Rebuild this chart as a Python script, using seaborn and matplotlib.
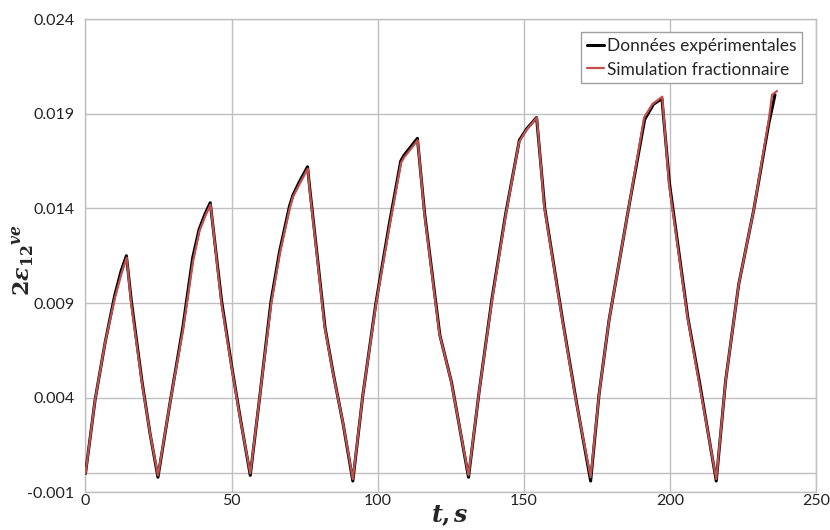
import numpy as np
import pandas as pd
import matplotlib
matplotlib.use('Agg')
import matplotlib.pyplot as plt
from matplotlib.ticker import FormatStrFormatter
import seaborn as sns

# Simulation (red) curve
t_sim = [0.0, 3.3, 6.7, 10.1, 12.4, 14.1, 15.6, 19.2, 22.0, 24.8,
         28.9, 33.4, 36.8, 39.0, 41.0, 42.8, 46.5, 50.0, 52.8, 56.4,
         59.6, 63.6, 66.5, 69.9, 71.0, 73.3, 76.1, 76.7, 79.0, 81.8, 84.7, 88.1, 91.5,
         94.9, 99.5, 104.0, 108.0, 109.1, 113.7, 116.0, 121.1, 125.1, 131.1,
         134.8, 139.3, 143.9, 148.4, 150.7, 154.5, 157.0, 163.2, 167.8, 172.9,
         175.8, 179.2, 186.0, 191.2, 194.0, 197.4, 199.7, 206.0, 210.0, 215.9,
         219.1, 223.6, 228.7, 233.9, 235.0, 236.7]
eps_sim = [0.0000, 0.0039, 0.0069, 0.0093, 0.0106, 0.0114, 0.0090, 0.0049, 0.0022, -0.0001,
           0.0037, 0.0076, 0.0112, 0.0128, 0.0136, 0.0142, 0.0090, 0.0056, 0.0030, 0.0000,
           0.0040, 0.0090, 0.0116, 0.0140, 0.0146, 0.0153, 0.0161, 0.0150, 0.0118, 0.0078, 0.0053, 0.0027, -0.0003,
           0.0041, 0.0090, 0.0130, 0.0164, 0.0167, 0.0176, 0.0137, 0.0074, 0.0049, -0.0001,
           0.0044, 0.0093, 0.0137, 0.0175, 0.0181, 0.0188, 0.0141, 0.0081, 0.0039, -0.0002,
           0.0042, 0.0081, 0.0141, 0.0188, 0.0195, 0.0199, 0.0153, 0.0083, 0.0048, -0.0003,
           0.0049, 0.0100, 0.0139, 0.0187, 0.0200, 0.0202]

# Experimental (black) curve
t_exp = [0.0, 3.3, 6.7, 10.0, 12.2, 14.0, 15.7, 19.3, 22.1, 24.8,
         28.9, 33.3, 36.7, 38.9, 40.9, 42.7, 46.6, 50.1, 53.0, 56.4,
         59.6, 63.5, 66.4, 69.8, 71.0, 73.2, 76.0, 76.8, 79.1, 82.0, 84.9, 88.2, 91.5,
         94.9, 99.4, 103.9, 107.9, 109.0, 113.6, 116.1, 121.3, 125.3, 131.1,
         134.8, 139.2, 143.8, 148.5, 151.0, 154.4, 157.2, 163.4, 168.0, 172.9,
         175.8, 179.2, 186.0, 191.4, 194.4, 197.3, 199.9, 206.2, 210.3, 215.9,
         219.1, 223.6, 228.7, 233.9, 236.0]
eps_exp = [0.0000, 0.0039, 0.0069, 0.0094, 0.0107, 0.0115, 0.0091, 0.0049, 0.0021, -0.0002,
           0.0037, 0.0077, 0.0114, 0.0129, 0.0137, 0.0143, 0.0091, 0.0056, 0.0029, -0.0001,
           0.0040, 0.0091, 0.0117, 0.0141, 0.0147, 0.0154, 0.0162, 0.0150, 0.0118, 0.0077, 0.0052, 0.0026, -0.0004,
           0.0041, 0.0090, 0.0131, 0.0165, 0.0168, 0.0177, 0.0137, 0.0073, 0.0048, -0.0002,
           0.0044, 0.0093, 0.0137, 0.0176, 0.0182, 0.0188, 0.0140, 0.0080, 0.0038, -0.0004,
           0.0042, 0.0081, 0.0141, 0.0187, 0.0195, 0.0198, 0.0153, 0.0082, 0.0047, -0.0004,
           0.0049, 0.0100, 0.0139, 0.0185, 0.0200]

x_ticks = [0, 50, 100, 150, 200, 250]
y_ticks = [-0.001, 0.004, 0.009, 0.014, 0.019, 0.024]

exp_df = pd.DataFrame({'t': t_exp, 'eps': eps_exp})
sim_df = pd.DataFrame({'t': t_sim, 'eps': eps_sim})

sns.set_style('whitegrid')
plt.rcParams['font.family'] = ['Lato', 'DejaVu Sans']
plt.rcParams['mathtext.fontset'] = 'dejavuserif'

fig = plt.figure(figsize=(8.3, 5.3), dpi=100)
ax = fig.add_axes([0.103, 0.071, 0.880, 0.893])

grid_col = '#bfbfbf'
ax.axhline(0, color=grid_col, lw=1.0, zorder=1)
sns.lineplot(data=exp_df, x='t', y='eps', ax=ax, color='black', lw=2.2,
             estimator=None, sort=False, label='Données expérimentales', zorder=3)
sns.lineplot(data=sim_df, x='t', y='eps', ax=ax, color='#c0504d', lw=1.6,
             estimator=None, sort=False, label='Simulation fractionnaire', zorder=4)

ax.set_xlim(0, 250)
ax.set_ylim(-0.001, 0.024)
ax.set_xticks(x_ticks)
ax.set_yticks(y_ticks)
ax.yaxis.set_major_formatter(FormatStrFormatter('%.3f'))
ax.grid(True, color=grid_col, lw=1.0)
for s in ax.spines.values():
    s.set_color(grid_col)
    s.set_linewidth(1.0)
ax.tick_params(length=0, labelsize=11.5, colors='#222222')
ax.tick_params(axis='x', pad=1)
ax.tick_params(axis='y', pad=8)

ax.set_xlabel(r'$\mathbfit{t}\mathbf{,}\,\mathbfit{s}$', fontsize=17)
ax.xaxis.set_label_coords(0.499, -0.023)
ax.set_ylabel(r'$\mathbf{2}\mathbfit{\varepsilon}_{\mathbf{12}}{}^{\mathbfit{ve}}$',
              fontsize=16, va='center')
ax.yaxis.set_label_coords(-0.085, 0.49)

leg = ax.legend(loc='upper right', bbox_to_anchor=(0.993, 0.99), fontsize=12.5,
                handlelength=1.0, handletextpad=0.2, borderpad=0.3,
                labelspacing=0.45, fancybox=False, framealpha=1)
leg.get_frame().set_edgecolor('#a0a0a0')
leg.get_frame().set_linewidth(1.0)

plt.savefig('out.png', dpi=100)
